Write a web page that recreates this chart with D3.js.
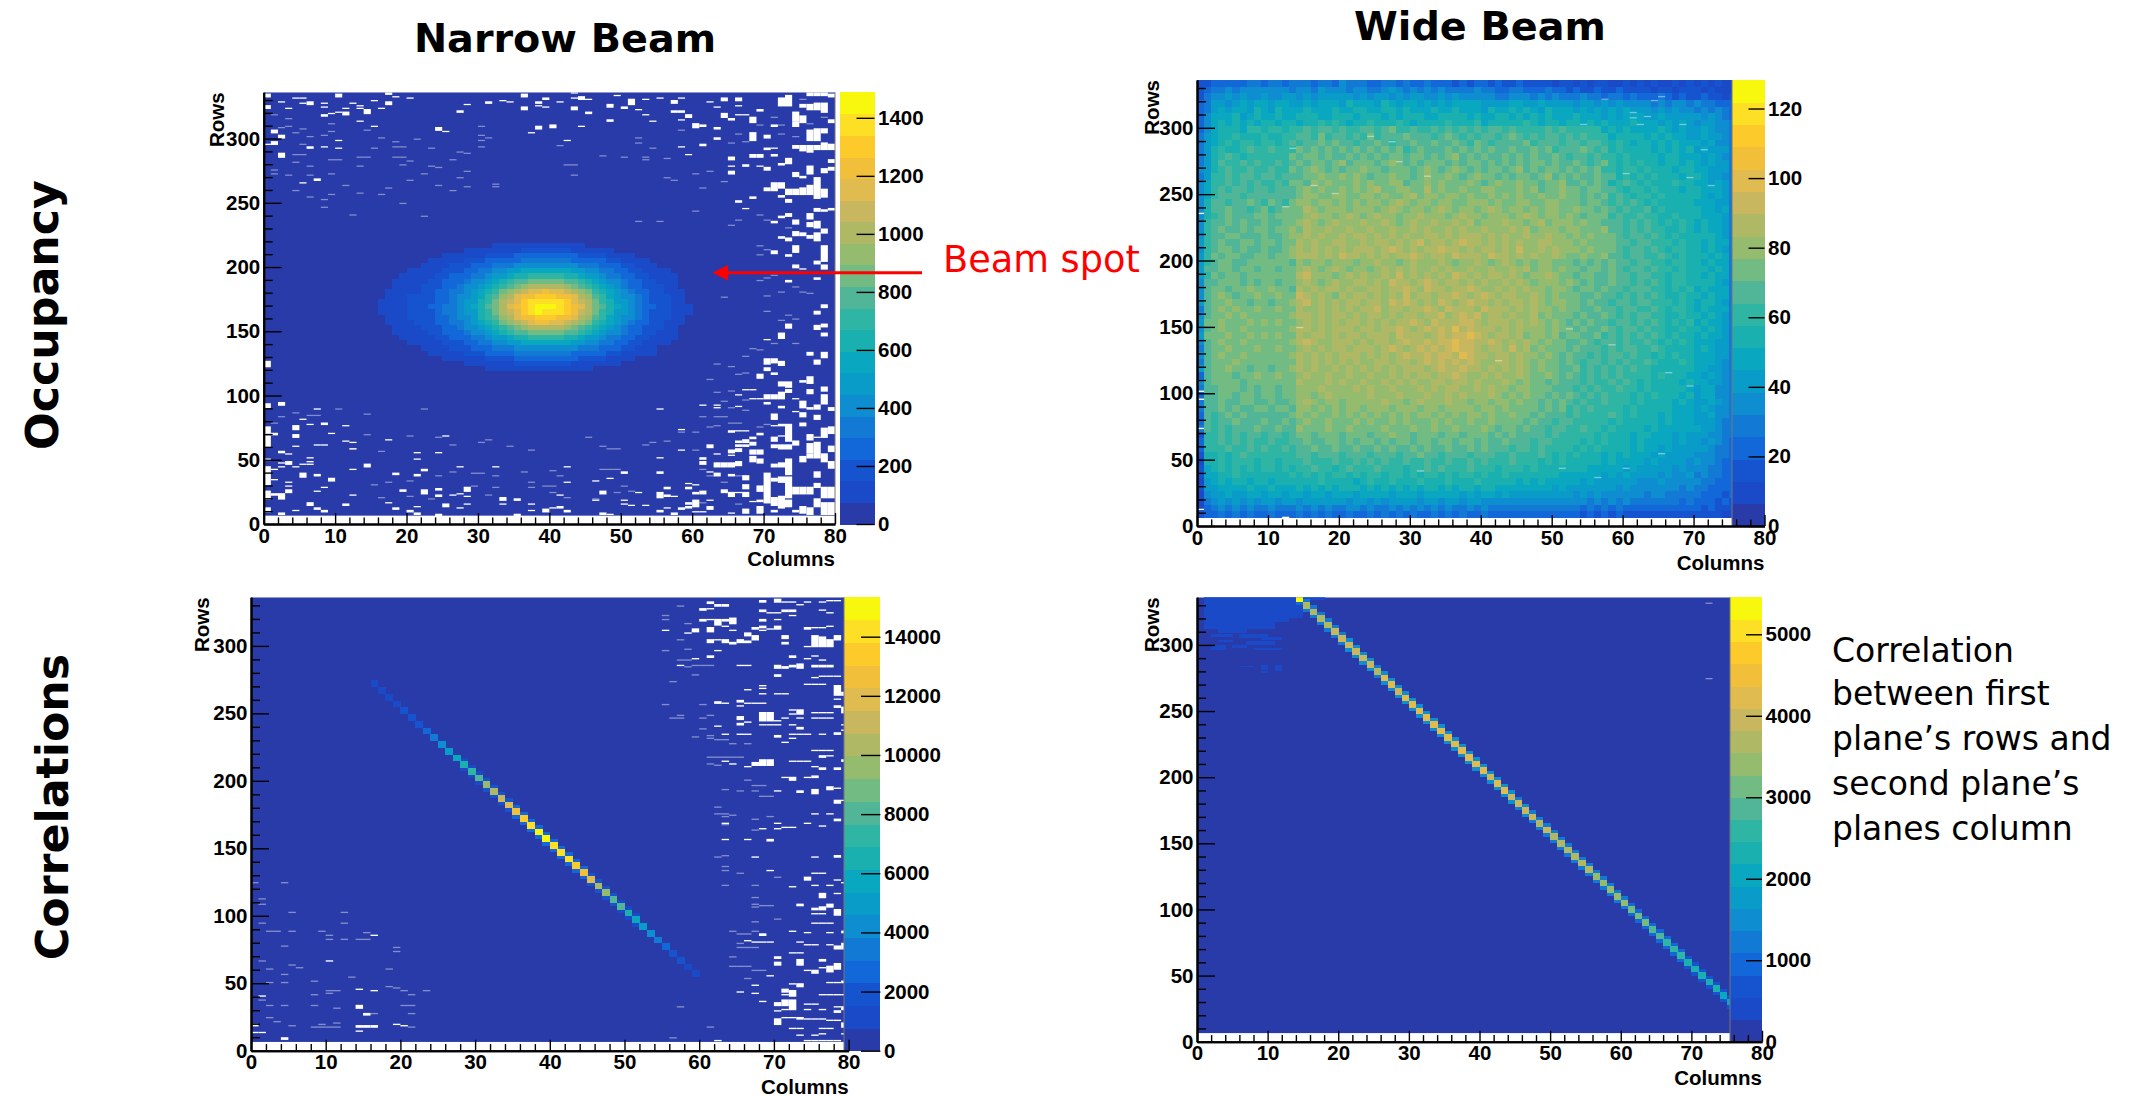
<!DOCTYPE html>
<html>
<head>
<meta charset="utf-8">
<title>Narrow and wide beam</title>
<script src="https://cdn.jsdelivr.net/npm/d3@7"></script>
<style>
  html, body { margin: 0; background: #fff; }
  svg { display: block; }
  text { fill: #000; }
</style>
</head>
<body>
<svg id="chart" width="2139" height="1096"></svg>
<script>
// 20 contour bands of the ROOT palette, low to high
const palette = ["#283ba8", "#1a4ac8", "#1553cf", "#1268d8", "#1279d4", "#0e8ed0", "#0a9cc9", "#0aa8c0", "#1bb0b0", "#2fb5a3",
  "#50b697", "#72bb82", "#95bb6f", "#afb965", "#c9b75f", "#dfbb50", "#f2bf3a", "#fcca2a", "#fde025", "#f8f80f"];

const columnMajorTicks = [0, 10, 20, 30, 40, 50, 60, 70, 80];
const columnMinorTicks = [2, 4, 6, 8, 12, 14, 16, 18, 22, 24, 26, 28, 32, 34, 36, 38, 42, 44, 46, 48, 52, 54, 56, 58, 62, 64, 66, 68, 72, 74, 76, 78];
const rowMajorTicks = [0, 50, 100, 150, 200, 250, 300];
const rowMinorTicks = [10, 20, 30, 40, 60, 70, 80, 90, 110, 120, 130, 140, 160, 170, 180, 190, 210, 220, 230, 240, 260, 270, 280, 290, 310, 320, 330];

const narrowOccupancyBarTicks = [0, 200, 400, 600, 800, 1000, 1200, 1400];
const wideOccupancyBarTicks = [0, 20, 40, 60, 80, 100, 120];
const narrowCorrelationBarTicks = [0, 2000, 4000, 6000, 8000, 10000, 12000, 14000];
const wideCorrelationBarTicks = [0, 1000, 2000, 3000, 4000, 5000];

// beam spot of the narrow beam: one char per column (base 20 contour band), columns from 15
const narrowSpotFirstColumn = 15;
const narrowSpotRows = [217, 213, 209, 205, 201, 197, 193, 189, 185, 181, 177, 173, 169, 165, 161, 157, 153, 149, 145, 141, 137, 133, 129, 125, 121];
const narrowSpotBands = [
  "000000000000 000001111111 1 1111100000 000000000000",
  "000000000000 011111111222 2 2221111110 000000000000",
  "000000000011 111122223333 3 3333222211 110000000000",
  "000000001111 122233333444 4 4443333322 111100000000",
  "000000011112 223334445555 5 5555444333 221110000000",
  "000001111122 233445566777 7 7776655443 322111100000",
  "000011111223 334456678899 9 9988766544 332211110000",
  "000111112233 34556789aabb b bbaa987655 433221110000",
  "000111122233 4556789abcdd d ddcba98765 433222110000",
  "001111122334 456789bcdeff g ffedcb9876 543322111000",
  "001112222334 55679acdfggh h hggfdca976 554322211000",
  "011112222334 56689bdefhii i iihfedb986 654322211000",
  "011112223344 5678abdfghij j jihgfdba87 654332211100",
  "011112222344 56689bdefhij i iihgedb986 654322211100",
  "001112222334 55689acdfggh h hggfdca976 554322211000",
  "001111222334 456789bcdefg g ffedcb9876 543322111000",
  "000111122233 4556789abcdd d ddcba98765 433222110000",
  "000111112233 34556789aabb b bbaa987655 433221110000",
  "000011111223 334456678899 9 9988766544 332211110000",
  "000001111122 233445566777 7 7776655443 322111100000",
  "000000011112 223334445555 5 5555444333 221110000000",
  "000000001111 122233334444 4 4443333322 111110000000",
  "000000000011 111122223333 3 3333222211 110000000000",
  "000000000000 011111112222 2 2221111111 000000000000",
  "000000000000 000011111111 1 1111110000 000000000000"
];

// empty cells of the narrow occupancy map: [column, lowest row, row count]
const narrowOccupancyHoles = [
  [60, 308, 4], [61, 309, 2], [61, 294, 2], [62, 328, 1], [63, 324, 1], [63, 307, 2], [63, 299, 2], [64, 329, 3], [64, 316, 4], [65, 314, 2], [65, 283, 3], [65, 272, 3], [65, 278, 1],
  [66, 329, 3], [66, 325, 1], [66, 318, 1], [66, 250, 2], [67, 245, 1], [67, 318, 1], [67, 278, 2], [68, 312, 5], [68, 298, 7], [68, 285, 3], [68, 253, 2], [69, 321, 2], [69, 285, 3], [69, 278, 1],
  [70, 300, 3], [70, 291, 2], [70, 275, 3], [70, 259, 3], [71, 309, 2], [71, 292, 1], [71, 286, 2], [71, 259, 7], [71, 234, 2], [71, 210, 3], [72, 325, 7], [72, 279, 2], [72, 261, 5], [72, 254, 2], [72, 238, 2], [72, 222, 2],
  [73, 325, 9], [73, 280, 5], [73, 256, 5], [73, 250, 3], [73, 239, 3], [73, 220, 3], [73, 208, 2], [73, 188, 2], [74, 313, 8], [74, 309, 4], [74, 292, 3], [74, 270, 4], [74, 256, 5], [74, 233, 4], [74, 224, 4], [74, 211, 6], [74, 199, 3],
  [75, 324, 3], [75, 312, 6], [75, 290, 5], [75, 269, 2], [75, 256, 6], [75, 224, 3], [75, 198, 1], [76, 322, 5], [76, 298, 9], [76, 289, 6], [76, 272, 7], [76, 256, 8], [76, 237, 5], [76, 231, 4], [76, 222, 3], [76, 333, 3],
  [77, 322, 6], [77, 298, 10], [77, 291, 4], [77, 253, 17], [77, 243, 3], [77, 230, 6], [77, 220, 7], [77, 202, 3], [77, 190, 2], [77, 333, 3], [78, 320, 8], [78, 304, 4], [78, 291, 6], [78, 273, 4], [78, 254, 7], [78, 243, 2], [78, 226, 4], [78, 204, 13], [78, 198, 4], [78, 168, 3], [78, 333, 3],
  [79, 332, 3], [79, 312, 3], [79, 291, 5], [79, 281, 3], [79, 275, 3], [79, 244, 2],
  [73, 152, 4], [72, 144, 5], [77, 163, 3], [77, 151, 4], [78, 153, 3], [78, 146, 3], [70, 143, 1], [76, 131, 3], [78, 129, 5], [77, 124, 4], [70, 124, 5], [71, 125, 4], [72, 123, 4], [70, 119, 3], [71, 116, 2], [69, 113, 4],
  [72, 107, 4], [73, 106, 5], [76, 109, 6], [75, 110, 2], [76, 101, 4], [67, 104, 1], [68, 104, 1], [66, 100, 1], [78, 103, 4], [78, 93, 8], [70, 97, 4], [71, 97, 4], [72, 97, 6], [73, 102, 3], [69, 97, 1], [68, 97, 1], [74, 97, 1],
  [75, 90, 6], [76, 89, 2], [77, 89, 4], [70, 93, 2], [72, 90, 2], [79, 88, 3], [61, 92, 1], [63, 92, 1], [63, 90, 1], [66, 91, 1], [71, 81, 5], [75, 83, 4], [77, 81, 4], [74, 87, 1], [75, 76, 3], [73, 64, 14], [72, 76, 2], [71, 76, 1],
  [79, 70, 6], [78, 67, 8], [65, 71, 2], [66, 72, 1], [67, 72, 1], [68, 66, 2], [69, 69, 2], [71, 64, 4], [72, 68, 1], [76, 65, 5], [77, 67, 1], [66, 63, 2], [67, 63, 3], [68, 63, 1], [62, 59, 3], [66, 60, 2], [67, 60, 2], [68, 61, 2],
  [68, 54, 4], [69, 54, 4], [65, 55, 3], [66, 56, 3], [71, 59, 3], [72, 58, 4], [73, 58, 4], [74, 61, 4], [76, 55, 8], [77, 51, 13], [79, 56, 5], [61, 50, 2], [61, 46, 3], [63, 54, 1], [65, 53, 1], [63, 44, 4], [64, 44, 4], [65, 44, 4], [66, 45, 4],
  [68, 48, 5], [69, 47, 4], [72, 44, 4], [73, 38, 13], [71, 44, 3], [75, 48, 5], [76, 51, 4], [78, 48, 7], [79, 43, 6], [62, 40, 1], [63, 37, 3], [65, 37, 2], [67, 34, 4], [70, 16, 24], [71, 33, 3], [72, 32, 5], [73, 20, 17], [74, 23, 6], [75, 23, 6], [76, 23, 6],
  [77, 36, 5], [77, 28, 4], [78, 20, 9], [79, 20, 9], [64, 24, 3], [65, 21, 4], [66, 24, 1], [67, 27, 4], [67, 21, 4], [69, 25, 5], [69, 17, 2], [60, 30, 1], [60, 23, 2], [61, 23, 3], [60, 13, 6], [62, 18, 1], [62, 11, 3], [61, 9, 1],
  [67, 8, 4], [68, 17, 1], [69, 8, 6], [71, 14, 7], [72, 12, 10], [73, 13, 6], [74, 9, 2], [75, 8, 6], [76, 7, 6], [77, 13, 7], [78, 7, 10], [79, 7, 10], [65, 8, 1], [71, 9, 2], [60, 9, 1],
  [0, 332, 3], [0, 323, 3], [2, 328, 1], [2, 300, 3], [2, 285, 4], [1, 304, 3], [1, 295, 3], [0, 295, 1], [3, 323, 1], [4, 331, 1], [5, 331, 1], [6, 326, 3], [5, 327, 1], [6, 292, 2], [5, 265, 1], [7, 267, 2], [8, 327, 1], [8, 324, 1], [8, 317, 2], [8, 293, 1], [9, 319, 1],
  [10, 332, 3], [10, 320, 1], [10, 298, 1], [10, 292, 1], [11, 323, 1], [11, 318, 3], [12, 327, 1], [13, 325, 1], [13, 323, 1], [13, 313, 1], [14, 319, 4], [15, 329, 1], [15, 309, 1], [16, 323, 1], [17, 334, 2], [17, 326, 3], [18, 332, 1], [20, 331, 1],
  [24, 306, 3], [25, 305, 1], [27, 320, 2], [28, 326, 1], [31, 327, 2], [33, 329, 1], [34, 328, 1], [36, 332, 3], [36, 322, 3], [37, 304, 1], [38, 327, 2], [38, 325, 1], [38, 307, 3], [39, 330, 2], [39, 324, 1], [40, 308, 3], [41, 328, 1], [42, 298, 1],
  [43, 322, 3], [43, 335, 1], [43, 331, 1], [44, 330, 3], [44, 309, 1], [45, 330, 1], [45, 319, 2], [48, 324, 3], [48, 313, 2], [49, 333, 1], [50, 323, 2], [51, 326, 5], [52, 322, 1], [53, 330, 1], [53, 318, 1], [54, 313, 1], [55, 331, 1], [57, 327, 3], [57, 320, 2], [58, 320, 2], [58, 331, 1], [58, 314, 1], [58, 293, 1], [59, 316, 3], [59, 287, 1],
  [0, 122, 5], [0, 90, 4], [0, 70, 6], [0, 60, 9], [0, 49, 2], [0, 39, 6], [0, 30, 10], [0, 19, 7], [0, 9, 4], [1, 69, 2], [1, 42, 1], [1, 34, 1], [1, 22, 2], [2, 92, 3], [2, 55, 2], [2, 47, 1], [2, 44, 1], [2, 19, 5], [2, 7, 2],
  [3, 46, 3], [3, 54, 1], [3, 32, 1], [3, 29, 1], [3, 24, 3], [4, 73, 4], [4, 67, 3], [4, 60, 1], [4, 44, 1], [4, 10, 1], [5, 81, 1], [5, 46, 1], [5, 36, 4], [6, 77, 1], [6, 51, 1], [6, 48, 1], [6, 46, 1], [6, 14, 3], [7, 89, 1], [7, 61, 1], [7, 37, 2], [7, 25, 1], [7, 11, 2],
  [8, 77, 2], [8, 61, 1], [8, 28, 1], [8, 9, 2], [9, 70, 1], [9, 33, 3], [11, 76, 1], [11, 64, 1], [11, 14, 2], [12, 63, 1], [12, 58, 1], [12, 42, 1], [12, 22, 1], [14, 44, 3], [17, 65, 1], [17, 16, 1], [18, 38, 2], [18, 11, 2], [19, 25, 2], [20, 9, 2],
  [21, 55, 1], [21, 50, 1], [21, 37, 2], [21, 13, 1], [21, 7, 2], [22, 41, 2], [22, 23, 4], [24, 55, 1], [24, 26, 2], [24, 21, 2], [24, 6, 2], [25, 68, 1], [25, 13, 3], [26, 22, 1], [27, 44, 1], [27, 23, 1], [27, 12, 1], [28, 25, 4], [28, 21, 1], [28, 15, 1],
  [32, 44, 1], [33, 18, 3], [33, 15, 1], [35, 18, 2], [35, 6, 2], [37, 15, 1], [37, 10, 1], [39, 9, 3], [40, 12, 1], [41, 12, 2], [41, 22, 1], [42, 44, 1], [42, 32, 1], [42, 9, 2], [46, 33, 1], [46, 18, 1], [47, 23, 3], [47, 7, 2], [48, 35, 1], [48, 7, 1],
  [50, 39, 2], [50, 18, 1], [50, 15, 1], [51, 14, 1], [52, 24, 1], [53, 14, 1], [55, 89, 1], [55, 51, 1], [55, 39, 2], [55, 20, 5], [55, 9, 2], [56, 27, 2], [56, 21, 2], [56, 12, 1], [57, 21, 1], [57, 7, 2], [58, 73, 1], [58, 57, 1], [58, 11, 2], [59, 31, 1], [59, 27, 2], [59, 15, 2], [59, 12, 2]
];

// nearly empty cells, drawn as pale streaks: [column, row]
const narrowOccupancyStreaks = [
  [1, 318], [1, 275], [1, 272], [2, 308], [3, 315], [3, 309], [3, 271], [4, 304], [4, 287], [4, 281], [4, 259], [5, 295], [5, 287], [5, 307], [6, 301], [6, 278], [6, 271], [6, 254], [8, 302], [8, 252], [8, 246], [9, 311], [9, 305], [9, 283], [9, 272], [9, 256], [10, 283], [11, 263], [12, 240], [13, 285], [13, 278], [13, 257], [14, 306], [14, 285], [15, 292], [16, 300], [16, 256], [17, 261], [18, 297], [18, 293], [18, 285], [19, 293], [19, 285], [19, 279], [20, 282], [20, 267], [19, 249], [22, 272], [22, 239], [21, 299], [23, 278], [23, 292], [24, 263], [24, 277], [26, 283], [26, 259], [27, 289], [27, 269], [28, 288], [28, 274], [28, 262], [30, 309], [30, 302], [30, 298], [30, 293], [31, 300], [32, 264], [32, 262], [41, 294], [42, 279], [43, 279], [43, 271], [47, 286], [50, 285], [52, 300], [52, 296], [53, 285], [53, 283], [54, 292], [56, 284], [56, 269], [57, 267], [58, 306], [52, 235], [55, 235],
  [1, 78], [2, 83], [4, 86], [6, 84], [7, 84], [10, 89], [14, 85], [22, 89], [12, 58], [14, 69], [16, 56], [20, 68], [24, 67], [26, 61], [30, 63], [31, 65], [34, 60], [37, 57], [45, 67], [47, 60], [48, 58], [49, 58], [53, 61], [54, 63], [56, 64], [58, 71], [32, 37], [30, 39], [29, 39], [36, 40], [40, 41], [41, 37], [47, 42], [48, 42], [49, 42], [26, 40], [24, 37], [20, 33], [17, 32], [15, 30], [16, 20], [20, 21], [23, 19], [29, 29], [31, 22], [32, 28], [37, 32], [37, 28], [39, 29], [40, 24], [40, 29], [42, 20], [46, 19], [49, 24], [50, 29], [51, 25],
  [65, 296], [66, 303], [67, 297], [69, 310], [71, 316], [72, 303], [74, 301], [75, 330], [76, 311], [78, 316], [72, 310], [69, 240], [70, 236], [73, 230], [65, 232], [66, 236], [64, 266], [60, 272], [62, 274], [61, 261], [60, 243], [69, 216], [70, 213], [69, 209], [70, 191], [69, 189], [71, 193], [64, 176], [70, 177], [72, 180], [74, 184], [75, 180], [76, 179],
  [70, 165], [73, 162], [74, 159], [72, 158], [71, 140], [74, 140], [68, 136], [69, 135], [67, 130], [63, 124], [65, 122], [66, 116], [67, 117], [62, 112], [65, 103], [63, 102], [67, 96], [64, 95], [67, 88], [61, 83], [63, 83], [64, 83], [65, 90], [60, 71], [63, 76], [62, 75], [60, 57], [61, 42], [66, 78], [65, 78], [69, 75], [70, 77], [62, 37], [61, 16], [64, 32], [66, 15], [66, 37]
];

// wide beam occupancy: one string per 5 rows from the top, one char per column (base 20 contour band)
const wideOccupancyBands = [
  "2233333443 443 4443443544 4334434334 3332323323 2232222122 1212211212 1211212 121211",
  "2344545555 555 4554655545 5445654545 4544445443 3443334332 3223223222 2122122 212111",
  "2455656556 556 6565666665 6566565665 5656555554 4555454544 4544344343 3343232 232212",
  "3466567677 677 6676777687 7768767767 6767777666 6776676666 5665656555 5454554 544333",
  "3467677687 687 7787778778 8778878777 8778777687 7878768777 6767676766 6565655 454543",
  "3577786787 787 7888778887 8887878887 7888878778 8787878777 8777676777 6676666 656543",
  "3578787878 878 8788989878 8988898788 8898889788 8889878878 8787877787 7767676 566554",
  "3578887998 998 99a9aa9a99 aa9ab99a99 a9a9a9a9aa 9a9999a9a9 9999787877 7787676 676554",
  "4678898889 889 9aa9b9aa9a 9b9aaabaaa 9aba9a9aa9 aba9a9aa9a 9a99978888 7878776 676654",
  "4678989989 989 a9aababaa9 aaba9aabaa baaba9ba9a aaab9aaa9a a9aa989878 8787877 767554",
  "4689889a99 a99 9babababab ababab9aba aababababa abaabab9aa aba9a89888 8787878 676664",
  "4689a98999 999 babbabaaba bababbabba babcababaa bababaaba9 aa9a998988 8878877 767654",
  "468a99a9a9 9a9 ababbabcab bbabcbabab bbababbaba bababbabaa ba9ab98989 8878878 767664",
  "5689a99a99 a99 babcbababb cbbabbbabc babcbababb abcababbab abab998998 9888788 776664",
  "4699a9aa9a a9a aabbcbbcbc babbcbbabc bbcbabcbba babbabcaba baabaa8989 8988878 876654",
  "5799a9a9a9 9a9 bbacbcbbbc bcbbccabbc bcbbbcbabc bbcbbabbca ababa89a98 9888988 776764",
  "579a9aa9aa 9aa abcbcbbcbc bcdbbccbbd bcbbcbbccb bbcbcabbcb babbaa9899 8988878 877764",
  "579aaa9aaa aaa abccbbccbb ccbcbbcdbc cbccbcbbcb cbcbbcbbcb babab9a989 9898888 876764",
  "58aa9aaba9 ba9 bccbccbcbc bccbcdcbcc bccbbcccbc bbccbbccbb babba9a9a9 8988888 777664",
  "58aabaa9ab 9ab bbdcbcccbc ccbcdcbccb cdcbccbcdc bccbcbccbb cbbaba9a99 a898888 877674",
  "589abaaabb abb bbcdccbcdc bcdccbccdc ccbcdccbcc cbcdcbccbc babbb9a99a 9988988 877764",
  "59aababaab aab bcdcbcdccc dccdcbcdcc dccdcdbccc dccbcdbccc bcbbaaa9a9 a989898 787764",
  "59abaababb abb cbdccdccdc cdccdccdcd ccdcdccdcc cdcdbcccbc cbbbcaa9a9 a998898 787764",
  "59aabbaaab aab ccdcdccdcd dcdcdcdccd dcdcdddcdc dccdccdccb cbcbbba9aa 9a98988 888764",
  "69abaabbab bab bdcdccddcc dcddcdcdec ddcdeddcdc dcdccddccc bcbbbbaa9a a999898 878774",
  "59abbabaab aab cdcdcdcdcd ddcdedcdcd deddcdcddc dceccdcdcc cbcbbba9aa 9a98998 878764",
  "69babbaabb abb cdddcdcedd cdcdcddedc ddcedddced dcdcdccdcb bcbbcaa9aa 99a9898 887874",
  "69abbaabbb bbb acbccbcccb ccdccbcdcc cdcbccdcbc dcbcbccbbb abababaa9a a998998 878774",
  "6aabbabbab bab bcdcbcdcbc cbcdcdcdcc dcdccdccdc cdcdbccbcb babbaba9aa 9a99898 887874",
  "69babbabbb bbb bdecccbcdc dccdcecdcd cdcedcdcdd cdcbccdcbb abbaabaa9a a998998 878774",
  "5aabbbabab bab bcdcbcdccd dcdceddcde dcddcdcdcc dcdcbcccbc babaabaa9a 9a98998 888764",
  "5abbabbcbb cbb adcdcddcdc cddcddedce ddcddedccd cdcdccbccb abbabaa9aa a998989 787774",
  "5abcbabbcb bcb bedcdcbdcd dcdcdcecdd cddedcdedc ddccdcbcbb baabaa9a9a 9a98898 878774",
  "6abbcbbabb abb cdecdcdcdd cddcededcd cedcdeddcd cddcdcbccb babaa9aa9a a999898 788764",
  "4abcbcbbcb bcb bdccdcdcdc ddecddcdde dcedddcedd dcdcdccbcb baabaa9aa9 9a98998 787774",
  "5abbcbcbbb bbb cddcdcddcd cddcdcddcd decdedecdd cdccdbcbbb abaaba9a9a a998898 878764",
  "6bbcbbbcbc bcb bcdcdcdcdd cdcdcddedc edddeedcdd dcdcdcbcba babaa9aa9a 9a98989 787764",
  "5abcbbcbbb bbb cddcdcdddc ddcddedcde dedfdedddc dcdcccbcbb abaaba9aa9 a998898 878764",
  "6bbbcbbcbc bcb bdcddcdcdd cdddcedddc dedeefedcd dcdbccbcab baab9a9a9a 9a98988 787764",
  "5abcbbcbbb bbb cdedccdddc dcddcdedde deefeedded cdcdcbcbba aba9aa9a99 a989898 777664",
  "4abbcbbbcb bcb bcdcdcddcd ddcdedcded edefeedcdd cecdbcbbba baaa9a9aa9 9a98888 787664",
  "5abcbbcbbb bbb cdcdcdcddd cdcdcdedde deedfeddcd dcdccbcbab aa9a9aa9a9 9898988 777664",
  "4abbbcbbbb bbb bdcdcdcdcd ccddcddcde dedededccd dcdcbcbbab a9aa9a9a99 a988898 777654",
  "6abbcbbabb abb cdcdccdcdc dcdcdcdddc deddeddcdc dcdcbcbbaa b9a9a9a9a9 9888888 776654",
  "3abbbabbcb bcb bcdccdccdc cdccdcdcdd cddedccdcd ccdcbbcbab a9a9a9a999 9898887 767654",
  "5abbbbabbb bbb bdcccdcdcc dccdcdcdcc ddcddcdccc dcbcbbabaa a9a99a9a98 9888878 776654",
  "4aabbbabab bab bcccdccccd cdccdcccdc dcddccdcdc cbccbbbaaa 9a9a99a998 9888887 677554",
  "3aabbabbab bab bccbcdcccc cdcccdcccd ccdcdcccdc bcbcbbabab a9a9a99989 8988878 677554",
  "4aabaabbaa baa bcdcbccbcc cccdccbcdc ccdccbccbc cbcbbababa 9a99a99989 8888787 667654",
  "4aababaabb abb accbcbcbcc bcccbcccbc cbccccbccb cbbbbabab9 a9a9999898 8888777 676554",
  "3a9ababaaa aaa bcbcbbcbcb cbcbcbcbcc bcbcbccbcb bcbbabaaa9 a9999a9898 8878777 667554",
  "3a9aabaaab aab abcbbcbbbc bcbbcbcbbb cbcbbcbbcb bbbabaa9aa 9999989888 8878777 666544",
  "4a9a9aaaba aba acbbbcbbcb bbbcbbbcbb cbbcbbbcba bbabaa9aa9 9a99898888 7877777 766544",
  "299a9a9aa9 aa9 abbabbbabb babbcbbabb babbabbbab abaaaa9a99 9998988878 8777676 665544",
  "399a9a9a99 a99 aabaabbaba bbababbabb abbabbabaa baaa9aa999 9898988878 7777676 656543",
  "3999a99a9a 99a 9aabaabaab aababaabab aabaababaa a9aa9a9999 8989888878 7767666 665443",
  "288989a999 999 9aa9aaa9aa a9aaa9aaba a9aaa9aaa9 9a999a9898 9888787877 7676666 555443",
  "1889899989 989 99a999a99a 9a9a99a99a 99a99a9a99 9a99989898 8888787777 6766665 655433",
  "2789898989 989 899a9989a9 99a999899a 9a999a9998 9998988888 8877777676 6666565 554433",
  "2778898888 888 9898989989 8998998989 9898998988 9888888877 7777676766 6656556 454433",
  "1678788788 788 8888988887 8988988898 8898889888 8878787777 7676666665 5565555 544333",
  "2667777877 877 7878787888 7878787878 8787887887 7777777676 6666665655 5555545 443333",
  "1566766776 776 7767767776 7777677767 7777676776 7666666666 5656555555 4554444 433323",
  "1456565656 656 6566666656 6565666656 6566566555 5555555555 5545454544 4444434 333232",
  "1345454544 544 4545454455 4544545454 5454454544 4444444444 4343434333 3333333 323222",
  "2334343433 433 3434343343 3434343433 4343433433 3333333333 3232323222 2222222 222211"
];
const wideOccupancyHoles = [[0, 235, 1], [0, 101, 1], [0, 95, 1], [0, 73, 1], [0, 12, 1], [12, 6, 1]];
const wideOccupancyStreaks = [
  [13, 284], [24, 293], [27, 289], [28, 274], [32, 263], [61, 311], [61, 307], [63, 308], [64, 320], [65, 323], [57, 321], [54, 302], [62, 302], [68, 302], [71, 283], [69, 262], [72, 256], [60, 265], [16, 256], [19, 250], [12, 240], [14, 149], [52, 148], [58, 136], [69, 105], [66, 115], [42, 124], [31, 41], [51, 43], [56, 36], [60, 43], [65, 54]
];

// narrow beam correlation: strongest row per column and the counts on and beside it
const narrowCorrelationColumns = [16, 17, 18, 19, 20, 21, 22, 23, 24, 25, 26, 27, 28, 29, 30, 31, 32, 33, 34, 35, 36, 37, 38, 39, 40, 41, 42, 43, 44, 45, 46, 47, 48, 49, 50, 51, 52, 53, 54, 55, 56, 57, 58, 59];
const narrowCorrelationRows = [272, 267, 262, 257, 252, 247, 242, 237, 232, 227, 222, 217, 212, 207, 202, 197, 192, 187, 182, 177, 172, 167, 162, 157, 152, 147, 142, 137, 132, 127, 122, 117, 112, 107, 102, 97, 92, 87, 82, 77, 72, 67, 62, 57];
const narrowCorrelationPeaks = [1500, 1200, 1300, 1500, 1700, 1900, 2200, 2700, 3100, 4000, 4700, 5600, 6300, 7300, 7900, 9200, 10200, 11000, 11900, 12900, 13700, 14500, 15100, 14900, 14200, 14300, 14000, 13700, 12700, 11600, 10500, 9400, 8400, 7700, 6800, 5800, 4700, 4000, 3200, 2700, 2200, 1800, 1500, 1300];
const narrowCorrelationFlanks = [0, 0, 0, 0, 0, 0, 0, 0, 0, 0, 0, 0, 800, 1000, 1300, 1600, 1800, 2000, 2200, 2400, 2400, 2500, 2500, 2500, 2400, 2400, 2400, 2400, 2300, 2200, 2000, 1800, 1600, 1300, 1000, 800, 0, 0, 0, 0, 0, 0, 0, 0];
const narrowCorrelationHoles = [
  [61, 331, 2], [60, 326, 2], [61, 327, 1], [62, 329, 2], [63, 329, 2], [60, 318, 2], [61, 319, 1], [62, 315, 5], [63, 318, 2], [64, 316, 5], [63, 314, 1], [64, 311, 1], [59, 310, 3], [58, 309, 1], [55, 311, 1], [61, 310, 4], [61, 302, 3], [62, 304, 1], [63, 302, 3], [64, 301, 2], [65, 302, 3], [66, 302, 2], [66, 307, 3], [67, 304, 4],
  [67, 312, 2], [68, 332, 2], [68, 325, 2], [68, 318, 2], [68, 313, 2], [68, 311, 1], [69, 312, 1], [70, 332, 3], [70, 319, 1], [70, 312, 3], [69, 324, 1], [70, 324, 1], [71, 332, 1], [72, 332, 1], [71, 325, 2], [72, 325, 2], [72, 322, 1], [71, 305, 3], [71, 301, 2],
  [73, 330, 1], [74, 332, 1], [74, 312, 2], [75, 313, 1], [76, 313, 1], [77, 314, 1], [75, 299, 9], [76, 299, 8], [77, 299, 6], [78, 304, 4], [76, 332, 1], [77, 333, 1], [78, 333, 1], [76, 326, 1], [77, 324, 1], [74, 299, 1], [74, 290, 1], [75, 292, 1], [76, 289, 1], [72, 291, 2],
  [57, 285, 1], [59, 290, 1], [61, 291, 2], [62, 296, 1], [70, 283, 3], [71, 283, 2], [72, 284, 2], [73, 283, 4], [75, 284, 2], [76, 284, 2], [77, 284, 2], [65, 285, 1], [66, 285, 1], [70, 277, 2], [75, 276, 1], [76, 277, 1], [77, 277, 1], [78, 277, 1], [74, 271, 1], [75, 271, 1], [76, 271, 1], [78, 263, 8], [79, 263, 3],
  [66, 267, 1], [68, 270, 1], [68, 268, 1], [68, 264, 1], [70, 264, 1], [71, 264, 1], [62, 257, 2], [63, 257, 1], [65, 258, 2], [65, 255, 1], [66, 257, 1], [67, 257, 1], [68, 257, 1], [78, 260, 1], [78, 254, 2], [79, 250, 5], [73, 249, 4], [72, 252, 1], [72, 249, 1], [75, 250, 1], [76, 250, 1], [77, 250, 1],
  [68, 244, 7], [69, 244, 7], [65, 245, 3], [65, 241, 2], [66, 243, 1], [70, 244, 1], [68, 241, 1], [69, 241, 1], [70, 241, 1], [71, 246, 1], [73, 246, 1], [75, 246, 1], [76, 246, 1], [77, 246, 1], [62, 240, 1], [72, 241, 1], [73, 238, 2], [79, 241, 1],
  [63, 234, 1], [65, 234, 1], [66, 234, 1], [70, 232, 2], [72, 234, 1], [73, 234, 1], [74, 234, 1], [76, 234, 1], [72, 231, 1], [71, 228, 1], [78, 234, 2], [79, 237, 1], [75, 222, 1], [76, 222, 1], [77, 222, 1], [76, 217, 2], [77, 218, 1],
  [63, 214, 1], [64, 212, 1], [66, 210, 1], [67, 211, 3], [68, 211, 5], [69, 211, 5], [72, 214, 1], [73, 214, 1], [74, 214, 1], [75, 210, 1], [76, 208, 2], [78, 208, 2], [79, 214, 2], [71, 202, 1], [72, 200, 3], [74, 202, 1], [75, 202, 2],
  [77, 193, 3], [78, 194, 1], [75, 190, 4], [73, 191, 2], [70, 192, 1], [78, 183, 3], [79, 185, 1], [75, 175, 1], [77, 175, 1], [78, 170, 2], [63, 168, 1], [70, 168, 1], [74, 168, 1], [76, 166, 1],
  [68, 164, 1], [70, 164, 1], [71, 165, 1], [72, 165, 1], [63, 156, 1], [66, 156, 1], [69, 155, 2], [67, 143, 1], [75, 143, 1], [78, 143, 2], [69, 133, 1], [75, 131, 1], [76, 131, 1], [74, 126, 3], [78, 126, 1], [79, 124, 1], [72, 121, 1], [75, 122, 1], [77, 122, 1], [76, 113, 4], [78, 116, 1],
  [73, 107, 2], [75, 104, 2], [76, 104, 3], [77, 106, 3], [78, 100, 5], [76, 101, 1], [75, 101, 1], [74, 87, 1], [72, 88, 1], [77, 87, 1], [79, 87, 2], [75, 94, 1], [76, 94, 1], [77, 94, 1], [68, 85, 2], [66, 81, 1], [67, 80, 1], [68, 80, 1], [69, 80, 1],
  [73, 80, 1], [74, 78, 1], [75, 78, 1], [77, 78, 1], [78, 75, 3], [79, 75, 5], [70, 68, 2], [70, 63, 3], [72, 72, 1], [73, 72, 1], [73, 63, 5], [76, 66, 2], [75, 57, 3], [76, 61, 1], [77, 58, 5], [78, 60, 5], [74, 59, 1], [69, 55, 1], [67, 48, 1], [73, 47, 3], [72, 49, 1],
  [77, 50, 1], [78, 50, 1], [79, 50, 2], [65, 43, 1], [67, 42, 1], [71, 43, 3], [72, 40, 5], [71, 41, 1], [76, 41, 1], [77, 41, 1], [78, 41, 1], [79, 41, 1], [68, 36, 1], [70, 33, 3], [71, 33, 5], [72, 30, 8], [71, 30, 1], [70, 29, 1], [74, 34, 1], [75, 34, 1], [74, 30, 1], [76, 30, 1], [78, 32, 1], [78, 28, 2], [79, 30, 3],
  [70, 19, 5], [71, 24, 1], [72, 24, 1], [73, 23, 2], [74, 23, 1], [75, 23, 1], [76, 23, 1], [77, 22, 1], [78, 22, 1], [79, 17, 4], [72, 16, 1], [73, 16, 1], [76, 16, 1], [77, 16, 1], [73, 11, 1], [75, 11, 1], [76, 12, 1], [79, 12, 1], [62, 7, 1], [74, 7, 1], [75, 7, 1], [76, 7, 1], [77, 7, 1], [78, 7, 1],
  [16, 85, 1], [10, 66, 1], [14, 45, 1], [16, 44, 1], [14, 31, 3], [15, 26, 2], [19, 19, 1], [14, 17, 2], [15, 17, 2], [16, 17, 2], [0, 18, 2], [0, 13, 1], [1, 13, 1], [1, 40, 1], [4, 8, 2], [14, 14, 1], [20, 18, 1]
];
const narrowCorrelationStreaks = [
  [55, 322], [55, 319], [57, 329], [58, 316], [57, 304], [58, 297], [55, 296], [57, 289], [58, 289], [59, 285], [60, 285], [61, 285], [58, 284], [59, 278], [56, 273], [55, 256], [60, 256], [57, 248], [56, 246], [57, 246], [60, 246], [61, 248], [60, 238], [59, 232], [61, 233], [61, 231], [62, 230], [63, 230], [64, 227], [66, 227], [61, 217], [62, 217], [63, 217], [64, 217], [65, 217], [61, 212], [62, 211], [66, 200], [63, 193], [65, 192], [67, 192], [67, 196], [68, 196], [68, 188], [69, 188], [62, 180], [62, 175], [63, 175], [67, 171], [69, 173], [63, 173], [64, 174],
  [63, 167], [67, 163], [62, 143], [63, 144], [63, 136], [63, 133], [65, 131], [70, 128], [63, 122], [67, 122], [67, 113], [67, 108], [67, 106], [68, 107], [69, 107], [70, 97], [67, 95], [64, 88], [65, 86], [66, 86], [67, 88], [65, 79], [65, 76], [66, 76], [67, 76], [64, 69], [64, 62], [65, 62], [66, 62], [67, 59], [68, 59], [66, 53], [57, 32], [61, 17], [56, 9],
  [4, 124], [0, 124], [1, 112], [1, 108], [5, 102], [12, 102], [12, 94], [1, 94], [2, 88], [3, 88], [5, 88], [9, 88], [10, 85], [15, 87], [10, 82], [12, 82], [14, 82], [15, 82], [4, 77], [19, 76], [19, 73], [1, 66], [5, 63], [6, 61], [18, 60], [2, 60], [4, 56], [13, 54], [2, 50], [4, 50], [8, 51], [10, 44], [11, 44], [18, 47], [19, 46], [20, 44], [23, 44], [8, 41], [10, 42], [21, 41], [1, 37], [2, 33], [4, 33], [8, 33], [20, 33], [21, 33], [11, 31], [16, 27], [21, 27], [2, 24], [3, 21], [9, 19], [11, 20], [5, 18], [8, 17], [9, 17], [10, 17], [11, 17], [21, 17]
];

// wide beam correlation
const wideCorrelationColumns = [14, 15, 16, 17, 18, 19, 20, 21, 22, 23, 24, 25, 26, 27, 28, 29, 30, 31, 32, 33, 34, 35, 36, 37, 38, 39, 40, 41, 42, 43, 44, 45, 46, 47, 48, 49, 50, 51, 52, 53, 54, 55, 56, 57, 58, 59, 60, 61, 62, 63, 64, 65, 66, 67, 68, 69, 70, 71, 72, 73, 74, 75];
const wideCorrelationRows = [335, 330, 325, 320, 315, 310, 305, 300, 295, 290, 285, 280, 275, 270, 265, 260, 255, 250, 245, 240, 235, 230, 225, 220, 215, 210, 205, 200, 195, 190, 185, 180, 175, 170, 165, 160, 155, 150, 145, 140, 135, 130, 125, 120, 115, 110, 105, 100, 95, 90, 85, 80, 75, 70, 65, 60, 55, 50, 45, 40, 35, 30];
const wideCorrelationPeaks = [5300, 3700, 3800, 3700, 3800, 3900, 3900, 4000, 3900, 4000, 4000, 3800, 4100, 4200, 4000, 4100, 4200, 4300, 4100, 4100, 4300, 4300, 4100, 4200, 4200, 4100, 4200, 4000, 4100, 4100, 4000, 3900, 4000, 3900, 3800, 3900, 3700, 3800, 3700, 3600, 3700, 3600, 3500, 3500, 3400, 3300, 3300, 3100, 3100, 3000, 2900, 2800, 2700, 2700, 2500, 2400, 2400, 2300, 2200, 2200, 2100, 2000];
const wideCorrelationFlanks = [900, 1200, 1200, 1200, 1300, 1300, 1300, 1400, 1400, 1400, 1400, 1300, 1400, 1500, 1400, 1400, 1500, 1500, 1400, 1400, 1500, 1500, 1400, 1400, 1400, 1400, 1400, 1400, 1400, 1400, 1400, 1300, 1400, 1300, 1300, 1300, 1300, 1300, 1200, 1200, 1200, 1200, 1200, 1200, 1100, 1100, 1100, 1000, 1000, 1000, 1000, 900, 900, 900, 900, 800, 800, 800, 800, 700, 700, 700];
// weak patch in the top left corner: [first column, last column, lowest row, highest row]
const wideCorrelationPatches = [
  [1, 11, 312, 336], [11, 13, 317, 336], [13, 15, 320, 336], [15, 18, 334, 336], [3, 7, 309, 312], [2, 5, 306, 308], [6, 10, 305, 308], [3, 5, 302, 304], [7, 11, 300, 303], [9, 12, 304, 306], [2, 4, 296, 300], [5, 7, 298, 300], [8, 12, 296, 298], [9, 10, 281, 285], [11, 12, 280, 285], [6, 8, 283, 284], [9, 10, 279, 280]
];
const wideCorrelationPatchValue = 400;
const wideCorrelationStreaks = [[72, 331], [72, 274]];

const emptyRowsBelow = 6.5;
const rowMax = 336;
const columnMax = 80;
const levelBase = 20;

/**
 * Turns a list of base 20 band strings into heat cells.
 *
 * @param {string[]} bands
 * @param {number[]} rowCenters
 * @param {number} halfHeight
 * @param {number} firstColumn
 * @param {number} maxValue
 * @returns {object[]}
 */
function cellsFromBands(bands, rowCenters, halfHeight, firstColumn, maxValue) {
  const cells = [];
  bands.forEach((band, bandIndex) => {
    band.replace(/ /g, "").split("").forEach((char, charIndex) => {
      const level = parseInt(char, levelBase);
      if (level > 0 || firstColumn === 0) {
        cells.push({
          col: firstColumn + charIndex,
          colEnd: firstColumn + charIndex + 1,
          rowLow: rowCenters[bandIndex] - halfHeight,
          rowHigh: rowCenters[bandIndex] + halfHeight,
          value: (level + 0.5) * maxValue / palette.length
        });
      }
    });
  });
  return cells;
}

/**
 * Turns the per column correlation arrays into heat cells.
 *
 * @param {number[]} columns
 * @param {number[]} rows
 * @param {number[]} peaks
 * @param {number[]} flanks
 * @returns {object[]}
 */
function cellsFromDiagonal(columns, rows, peaks, flanks) {
  const cells = [];
  columns.forEach((col, index) => {
    if (flanks[index] > 0) {
      cells.push({ col, colEnd: col + 1, rowLow: rows[index] - 5, rowHigh: rows[index] - 2.5, value: flanks[index] });
      cells.push({ col, colEnd: col + 1, rowLow: rows[index] + 2.5, rowHigh: rows[index] + 5, value: flanks[index] });
    }
  });
  columns.forEach((col, index) => {
    cells.push({ col, colEnd: col + 1, rowLow: rows[index] - 2.5, rowHigh: rows[index] + 2.5, value: peaks[index] });
  });
  return cells;
}

/**
 * Appends one rect per cell.
 *
 * @param {object} layer
 * @param {object} scales
 * @param {object[]} cells
 * @returns {void}
 */
function renderCells(layer, scales, cells) {
  layer.append("g")
    .attr("shape-rendering", "crispEdges")
    .selectAll("rect")
    .data(cells)
    .join("rect")
    .attr("x", (cell) => scales.x(cell.col))
    .attr("width", (cell) => scales.x(cell.colEnd) - scales.x(cell.col) + 0.4)
    .attr("y", (cell) => scales.y(cell.rowHigh))
    .attr("height", (cell) => scales.y(cell.rowLow) - scales.y(cell.rowHigh))
    .attr("fill", (cell) => scales.color(cell.value));
}

/**
 * Draws the empty bins in white.
 *
 * @param {object} layer
 * @param {object} scales
 * @param {number[][]} holes
 * @returns {void}
 */
function renderHoles(layer, scales, holes) {
  layer.append("g")
    .attr("fill", "#fff")
    .selectAll("rect")
    .data(holes)
    .join("rect")
    .attr("x", (hole) => scales.x(hole[0]))
    .attr("width", (hole) => scales.x(hole[0] + 1) - scales.x(hole[0]))
    .attr("y", (hole) => scales.y(hole[1] + hole[2]))
    .attr("height", (hole) => scales.y(hole[1]) - scales.y(hole[1] + hole[2]));
}

/**
 * Draws the pale one row streaks.
 *
 * @param {object} layer
 * @param {object} scales
 * @param {number[][]} streaks
 * @returns {void}
 */
function renderStreaks(layer, scales, streaks) {
  layer.append("g")
    .attr("fill", "#fff")
    .attr("fill-opacity", 0.42)
    .selectAll("rect")
    .data(streaks)
    .join("rect")
    .attr("x", (streak) => scales.x(streak[0]))
    .attr("width", (streak) => scales.x(streak[0] + 1) - scales.x(streak[0]))
    .attr("y", (streak) => scales.y(streak[1] + 1))
    .attr("height", (streak) => scales.y(streak[1]) - scales.y(streak[1] + 1));
}

/**
 * Applies the ROOT label look to an axis group.
 *
 * @param {object} axisGroup
 * @returns {void}
 */
function styleAxis(axisGroup) {
  axisGroup.attr("font-family", "'Liberation Sans', Arial, sans-serif")
    .attr("font-weight", "bold")
    .attr("font-size", 20.5);
  axisGroup.selectAll("line").attr("stroke", "#000").attr("stroke-width", 1.4);
  axisGroup.selectAll("path").attr("stroke", "#000").attr("stroke-width", 2);
}

/**
 * Draws one pad: heat cells, frame, axes and palette.
 *
 * @param {object} svg
 * @param {object} pad
 * @returns {void}
 */
function renderPad(svg, pad) {
  const scales = {
    x: d3.scaleLinear().domain([0, columnMax]).range([pad.left, pad.right]),
    y: d3.scaleLinear().domain([0, rowMax]).range([pad.bottom, pad.top]),
    color: d3.scaleQuantize().domain([0, pad.maxValue]).range(palette)
  };
  const clipId = `clip-${pad.id}`;
  const heatRight = Math.min(pad.right, pad.barLeft);
  svg.append("clipPath").attr("id", clipId).append("rect")
    .attr("x", pad.left).attr("y", pad.top)
    .attr("width", heatRight - pad.left).attr("height", pad.bottom - pad.top);

  const layer = svg.append("g").attr("clip-path", `url(#${clipId})`);
  if (pad.filled) {
    layer.append("rect")
      .attr("x", scales.x(0))
      .attr("y", scales.y(rowMax))
      .attr("width", heatRight - scales.x(0))
      .attr("height", scales.y(emptyRowsBelow) - scales.y(rowMax))
      .attr("fill", palette[0]);
  }
  renderCells(layer, scales, pad.cells);
  renderHoles(layer, scales, pad.holes);
  renderStreaks(layer, scales, pad.streaks);

  // palette on the right
  const barScale = d3.scaleLinear().domain([0, pad.maxValue]).range([pad.bottom, pad.top]);
  svg.append("g")
    .attr("shape-rendering", "crispEdges")
    .selectAll("rect")
    .data(palette)
    .join("rect")
    .attr("x", pad.barLeft)
    .attr("width", pad.barRight - pad.barLeft)
    .attr("y", (colour) => barScale(scales.color.invertExtent(colour)[1]))
    .attr("height", (colour) => barScale(scales.color.invertExtent(colour)[0]) - barScale(scales.color.invertExtent(colour)[1]) + 0.5)
    .attr("fill", (colour) => colour);

  svg.append("line")
    .attr("x1", heatRight).attr("x2", heatRight)
    .attr("y1", pad.top).attr("y2", pad.bottom)
    .attr("stroke", "#777").attr("stroke-width", 1);

  const plainNumber = d3.format("d");
  const xMinor = d3.axisBottom(scales.x).tickValues(columnMinorTicks).tickSize(-6.6).tickFormat("").tickSizeOuter(0);
  const xMajor = d3.axisBottom(scales.x).tickValues(columnMajorTicks).tickSize(-11).tickPadding(4).tickFormat(plainNumber).tickSizeOuter(0);
  const yMinor = d3.axisLeft(scales.y).tickValues(rowMinorTicks).tickSize(-9).tickFormat("").tickSizeOuter(0);
  const yMajor = d3.axisLeft(scales.y).tickValues(rowMajorTicks).tickSize(-18).tickPadding(3.5).tickFormat(plainNumber).tickSizeOuter(0);
  const barAxis = d3.axisRight(barScale).tickValues(pad.barTicks).tickSize(-pad.barTickLength).tickPadding(3.5).tickFormat(plainNumber).tickSizeOuter(0);

  [xMinor, xMajor].forEach((axis) => {
    svg.append("g").attr("transform", `translate(0,${pad.bottom})`).call(axis).call(styleAxis);
  });
  [yMinor, yMajor].forEach((axis) => {
    svg.append("g").attr("transform", `translate(${pad.left},0)`).call(axis).call(styleAxis);
  });
  svg.append("g").attr("transform", `translate(${pad.barRight},0)`).call(barAxis).call(styleAxis)
    .call((axisGroup) => axisGroup.select(".domain").remove());

  svg.append("text")
    .attr("x", pad.right)
    .attr("y", pad.columnsBaseline)
    .attr("text-anchor", "end")
    .attr("font-family", "'Liberation Sans', Arial, sans-serif")
    .attr("font-weight", "bold")
    .attr("font-size", 20.5)
    .text("Columns");
  svg.append("text")
    .attr("transform", `translate(${pad.rowsBaseline},${pad.top}) rotate(-90)`)
    .attr("text-anchor", "end")
    .attr("font-family", "'Liberation Sans', Arial, sans-serif")
    .attr("font-weight", "bold")
    .attr("font-size", 20.5)
    .text("Rows");
}

/**
 * Draws slide titles, side labels and the annotations.
 *
 * @param {object} svg
 * @returns {void}
 */
function renderSlideText(svg) {
  const slideFont = "'DejaVu Sans', sans-serif";
  const titles = [
    { text: "Narrow Beam", x: 565, y: 52 },
    { text: "Wide Beam", x: 1480, y: 40 }
  ];
  svg.append("g").selectAll("text").data(titles).join("text")
    .attr("x", (title) => title.x)
    .attr("y", (title) => title.y)
    .attr("text-anchor", "middle")
    .attr("font-family", slideFont)
    .attr("font-weight", "bold")
    .attr("font-size", 39.7)
    .text((title) => title.text);

  const sideLabels = [
    { text: "Occupancy", x: 58, y: 315 },
    { text: "Correlations", x: 68, y: 807 }
  ];
  svg.append("g").selectAll("text").data(sideLabels).join("text")
    .attr("transform", (label) => `translate(${label.x},${label.y}) rotate(-90)`)
    .attr("text-anchor", "middle")
    .attr("font-family", slideFont)
    .attr("font-weight", "bold")
    .attr("font-size", 44.3)
    .text((label) => label.text);

  svg.append("text")
    .attr("x", 943)
    .attr("y", 272)
    .attr("font-family", slideFont)
    .attr("font-size", 36.7)
    .style("fill", "#ff0000")
    .text("Beam spot");

  svg.append("line")
    .attr("x1", 922).attr("x2", 725)
    .attr("y1", 272.7).attr("y2", 272.7)
    .attr("stroke", "#ff0000").attr("stroke-width", 3);
  svg.append("path")
    .attr("d", d3.line()([[712.5, 272.7], [728, 265], [728, 280.4]]) + "Z")
    .attr("fill", "#ff0000");

  const noteLines = ["Correlation", "between first", "plane\u2019s rows and", "second plane\u2019s", "planes column"];
  const noteBaselines = [662, 705, 750, 795, 840];
  svg.append("g").selectAll("text").data(noteLines).join("text")
    .attr("x", 1832)
    .attr("y", (_, index) => noteBaselines[index])
    .attr("font-family", slideFont)
    .attr("font-size", 33)
    .text((line) => line);
}

const svg = d3.select("#chart");
const narrowOccupancyMax = 1488;
const wideOccupancyMax = 128.2;
const narrowCorrelationMax = 15332;
const wideCorrelationMax = 5454;

renderPad(svg, {
  id: "narrow-occupancy", left: 263.7, right: 835, top: 92.3, bottom: 524, barLeft: 840, barRight: 874.5,
  maxValue: narrowOccupancyMax, barTicks: narrowOccupancyBarTicks, barTickLength: 18, filled: true,
  cells: cellsFromBands(narrowSpotBands, narrowSpotRows, 2, narrowSpotFirstColumn, narrowOccupancyMax),
  holes: narrowOccupancyHoles, streaks: narrowOccupancyStreaks, columnsBaseline: 566, rowsBaseline: 224
});
renderPad(svg, {
  id: "wide-occupancy", left: 1197, right: 1764.5, top: 80, bottom: 526, barLeft: 1732, barRight: 1764.5,
  maxValue: wideOccupancyMax, barTicks: wideOccupancyBarTicks, barTickLength: 16, filled: true,
  cells: cellsFromBands(wideOccupancyBands, wideOccupancyBands.map((_, index) => rowMax - 2.5 - 5 * index), 2.5, 0, wideOccupancyMax),
  holes: wideOccupancyHoles, streaks: wideOccupancyStreaks, columnsBaseline: 570, rowsBaseline: 1159
});
renderPad(svg, {
  id: "narrow-correlation", left: 251, right: 848.6, top: 597.3, bottom: 1050.7, barLeft: 844, barRight: 880.4,
  maxValue: narrowCorrelationMax, barTicks: narrowCorrelationBarTicks, barTickLength: 19.4, filled: true,
  cells: cellsFromDiagonal(narrowCorrelationColumns, narrowCorrelationRows, narrowCorrelationPeaks, narrowCorrelationFlanks),
  holes: narrowCorrelationHoles, streaks: narrowCorrelationStreaks, columnsBaseline: 1093.5, rowsBaseline: 209
});
renderPad(svg, {
  id: "wide-correlation", left: 1197, right: 1762, top: 597.3, bottom: 1041.7, barLeft: 1730, barRight: 1762,
  maxValue: wideCorrelationMax, barTicks: wideCorrelationBarTicks, barTickLength: 16, filled: true,
  cells: wideCorrelationPatches.map((patch) => ({ col: patch[0], colEnd: patch[1], rowLow: patch[2], rowHigh: patch[3], value: wideCorrelationPatchValue }))
    .concat(cellsFromDiagonal(wideCorrelationColumns, wideCorrelationRows, wideCorrelationPeaks, wideCorrelationFlanks)),
  holes: [], streaks: wideCorrelationStreaks, columnsBaseline: 1085, rowsBaseline: 1159
});
renderSlideText(svg);
</script>
</body>
</html>
